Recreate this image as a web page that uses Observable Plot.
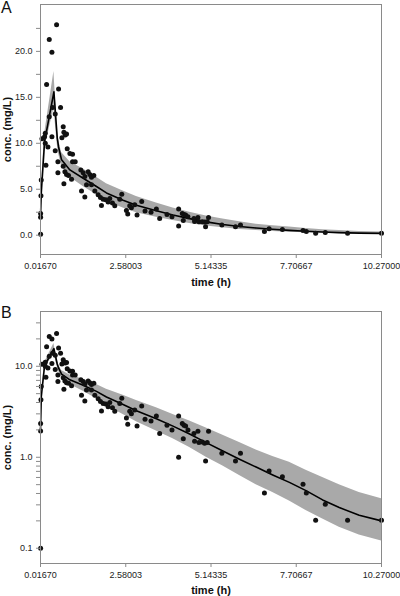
<!DOCTYPE html>
<html><head><meta charset="utf-8">
<script src="https://cdn.jsdelivr.net/npm/d3@7"></script>
<script src="https://cdn.jsdelivr.net/npm/@observablehq/plot@0.6"></script>
<style>
body{margin:0;background:#fff;font-family:"Liberation Sans",Arial,sans-serif;}
#wrap{position:relative;width:400px;height:596px;overflow:hidden;}
.panel{position:absolute;left:0;}
.lab{position:absolute;left:1px;font-size:16px;line-height:16px;color:#111;}
</style></head>
<body>
<div id="wrap">
  <div class="panel" id="pa" style="top:0"></div>
  <div class="panel" id="pb" style="top:290px"></div>
  <div class="lab" style="top:0px">A</div>
  <div class="lab" style="top:305px">B</div>
</div>
<script>
// Observed concentrations (time in h, conc in mg/L)
const obsTime = [0.02,0.02,0.02,0.03,0.04,0.06,0.14,0.16,0.16,0.18,0.20,0.24,0.28,0.28,0.36,0.36,0.38,0.46,0.46,0.50,0.54,0.54,0.56,0.62,0.66,0.70,0.72,0.76,0.80,0.82,0.70,0.75,0.72,0.80,0.86,0.90,0.98,0.98,1.06,0.95,
  1.23,1.30,1.35,1.40,1.25,1.35,1.45,1.50,1.55,1.62,1.55,1.65,1.75,1.82,1.90,1.98,1.85,2.05,2.10,2.18,2.25,2.40,2.46,2.60,2.64,2.70,2.75,2.85,2.92,
  3.06,3.16,3.34,3.50,3.60,3.82,3.97,4.17,4.17,4.28,4.33,4.38,4.31,4.45,4.63,4.65,4.75,4.78,4.88,4.95,5.03,4.98,5.07,5.47,5.88,6.03,6.75,6.89,7.29,7.91,8.01,8.29,8.58,9.25,10.27];
const obsConc = [0.10,1.95,2.35,4.3,6.0,10.5,10.7,11.1,10.0,7.6,16.4,9.6,21.3,12.9,19.9,10.7,13.9,13.2,9.2,22.9,8.0,6.8,15.9,13.9,10.6,11.8,11.2,10.9,11.0,9.4,7.5,6.9,5.6,6.6,6.5,8.9,8.8,8.0,8.0,6.1,
  7.1,6.8,6.4,5.5,4.8,4.16,6.9,6.6,6.3,6.5,5.5,4.8,4.4,4.1,3.9,3.85,3.22,3.6,4.0,3.5,3.2,3.9,4.45,2.7,2.3,3.2,3.0,3.3,2.2,
  3.66,2.62,2.5,2.84,1.82,2.25,2.0,2.84,1.0,2.35,2.25,2.2,1.6,2.0,1.82,1.5,1.93,1.45,1.47,1.43,1.45,0.91,1.93,1.11,0.91,1.11,0.405,0.707,0.61,0.505,0.405,0.203,0.305,0.203,0.203];

// Model prediction: median and prediction interval
const predTime = [0.0167,0.04,0.14,0.42,0.52,0.56,0.65,0.9,1.3,1.7,2.0,2.5,2.9,3.5,4.0,4.5,5.0,5.5,6.0,6.5,7.0,7.5,8.0,8.5,9.0,9.6,10.27];
const predMed  = [2.0,4.6,10.2,15.6,10.6,9.6,8.2,7.1,6.2,5.3,4.6,3.8,3.25,2.65,2.2,1.8,1.45,1.17,0.95,0.78,0.64,0.53,0.43,0.34,0.28,0.23,0.20];
const predLo   = [1.8,4.1,9.4,13.8,9.9,8.9,7.5,6.3,5.3,4.4,3.7,2.95,2.45,1.95,1.6,1.28,1.0,0.8,0.63,0.5,0.41,0.33,0.26,0.21,0.17,0.14,0.12];
const predHi   = [2.2,5.1,11.0,17.8,11.5,10.4,9.0,8.0,7.2,6.3,5.6,4.8,4.2,3.5,2.95,2.5,2.1,1.75,1.45,1.2,1.02,0.88,0.72,0.6,0.5,0.41,0.35];

// Axis ticks
const xTicks = [0.0167,2.58003,5.14335,7.70667,10.27];
const xTickLabels = ["0.01670","2.58003","5.14335","7.70667","10.27000"];
const yLinTicks = [0,2.5,5,7.5,10,12.5,15,17.5,20,22.5];
const yLinLabels = {0:"0.0",5:"5.0",10:"10.0",15:"15.0",20:"20.0"};
const yLogTicks = [0.1,0.2,0.3,0.4,0.5,0.6,0.7,0.8,0.9,1,2,3,4,5,6,7,8,9,10,20,30];
const yLogLabels = {0.1:"0.1",1:"1.0",10:"10.0"};

const obs = obsTime.map((t,i)=>({t, c: obsConc[i]}));
const pred = predTime.map((t,i)=>({t, med: predMed[i], lo: predLo[i], hi: predHi[i]}));

function panel(log){
  const p = Plot.plot({
    width: 400, height: log ? 306 : 290,
    marginLeft: 40, marginRight: 19,
    marginTop: log ? 21 : 4, marginBottom: log ? 33 : 36,
    style: {fontFamily: "Liberation Sans, Arial, sans-serif", fontSize: "9px", color: "#222", background: "white", overflow: "visible"},
    x: {domain: [0.0167, 10.27]},
    y: log ? {type: "log", domain: [0.068, 40]} : {domain: [-2.1, 25.1]},
    marks: [
      Plot.areaY(pred, {x: "t", y1: "lo", y2: "hi", fill: "#a9a9a9"}),
      Plot.line(pred, {x: "t", y: "med", stroke: "#000", strokeWidth: 1.6}),
      Plot.dot(obs, {x: "t", y: "c", r: 2.5, fill: "#111", stroke: "none"}),
      Plot.frame({stroke: "#8a8a8a"}),
      Plot.axisX({ticks: xTicks, tickFormat: d => xTickLabels[xTicks.indexOf(d)], tickSize: 4, tickPadding: 4, stroke: "#8a8a8a", fill: "#222",
        label: "time (h)", labelAnchor: "center", labelArrow: "none", labelOffset: log ? 30 : 31}),
      Plot.axisY({ticks: log ? yLogTicks : yLinTicks,
        tickFormat: d => (log ? yLogLabels : yLinLabels)[d] ?? "",
        tickSize: 4, tickPadding: 4, stroke: "#8a8a8a", fill: "#222",
        label: "conc. (mg/L)", labelAnchor: "center", labelArrow: "none", labelOffset: 37})
    ]
  });
  d3.select(p).selectAll('[aria-label="x-axis label"] text, [aria-label="y-axis label"] text')
    .attr("font-weight", "bold").attr("font-size", "11px").attr("fill", "#111");
  return p;
}
document.getElementById("pa").appendChild(panel(false));
document.getElementById("pb").appendChild(panel(true));
</script>
</body></html>
